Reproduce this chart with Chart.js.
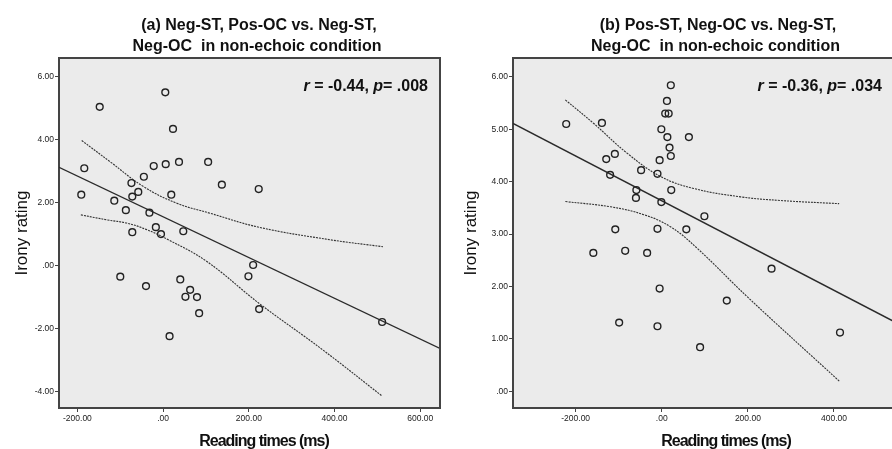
<!DOCTYPE html>
<html>
<head>
<meta charset="utf-8">
<script src="https://cdn.jsdelivr.net/npm/chart.js@4.4.0/dist/chart.umd.min.js"></script>
<style>
body { margin: 0; background: #fff; overflow: hidden; width: 892px; height: 449px; position: relative; }
.panel { position: absolute; top: 0; height: 449px; }
</style>
</head>
<body>
<div class="panel" style="left:0;width:446px"><canvas id="chartA" width="446" height="449"></canvas></div>
<div class="panel" style="left:446px;width:446px;overflow:hidden"><canvas id="chartB" width="470" height="449"></canvas></div>
<script>
// panel (a): reading times (ms) vs irony rating
var timesA = [-148, 5, 23, -184, -191, -22, 6, 37, 105, 137, 223, -45, -74, -58, -72, 19, -114, -87, -32, -17, -5, -72, 47, -100, -40, 40, 63, 52, 79, 84, 15, 210, 199, 224, 511];
var ratingsA = [5.04, 5.50, 4.34, 3.09, 2.25, 3.16, 3.22, 3.29, 3.29, 2.57, 2.43, 2.82, 2.62, 2.34, 2.19, 2.25, 2.06, 1.76, 1.68, 1.22, 1.00, 1.06, 1.09, -0.35, -0.65, -0.44, -0.77, -0.99, -1.00, -1.51, -2.24, 0.02, -0.34, -1.38, -1.79];
var fitXA = [-243, 646];
var fitYA = [3.12, -2.63];
var upperXA = [-190, -124, -46, 32, 110, 226, 390, 513];
var upperYA = [3.97, 3.30, 2.51, 1.98, 1.66, 1.21, 0.82, 0.60];
var lowerXA = [-192, -130, -85, -40, 12, 100, 226, 370, 511];
var lowerYA = [1.61, 1.45, 1.35, 1.15, 0.82, 0.15, -1.22, -2.65, -4.14];
var xTicksA = [-200, 0, 200, 400, 600];
var yTicksA = [-4, -2, 0, 2, 4, 6];

// panel (b)
var timesB = [-222, -139, -129, -109, -120, -48, -59, -60, -10, -5, -1, 22, 21, 12, 8, 16, -1, 13, 63, 18, 21, 99, -108, -10, 57, -159, -85, -34, -5, 151, 255, -99, -10, 89, 414];
var ratingsB = [5.10, 5.12, 4.43, 4.53, 4.13, 4.22, 3.84, 3.69, 4.15, 4.41, 3.61, 3.84, 5.84, 5.54, 5.30, 5.30, 5.00, 4.85, 4.85, 4.65, 4.49, 3.34, 3.09, 3.10, 3.09, 2.64, 2.68, 2.64, 1.96, 1.73, 2.34, 1.31, 1.24, 0.84, 1.12];
var fitXB = [-345.6, 591];
var fitYB = [5.11, 1.11];
var upperXB = [-224, -158, -80, -3, 74, 183, 276, 412];
var upperYB = [5.56, 5.11, 4.54, 4.10, 3.87, 3.71, 3.64, 3.58];
var lowerXB = [-224, -119, -42, 20, 82, 199, 414];
var lowerYB = [3.62, 3.52, 3.37, 3.14, 2.73, 1.80, 0.18];
var xTicksB = [-200, 0, 200, 400];
var yTicksB = [0, 1, 2, 3, 4, 5, 6];

var FONT = "'Liberation Sans', Arial, sans-serif";

function pts(xs, ys) {
    return xs.map(function (x, i) { return { x: x, y: ys[i] }; });
}

function fmt(v) {
    var s = Math.abs(v).toFixed(2);
    if (s.charAt(0) === '0') s = s.slice(1);
    return (v < 0 ? '-' : '') + s;
}

// grey plot background + frame lines + all the text that is placed by hand
var decor = {
    id: 'decor',
    beforeDraw: function (chart) {
        var a = chart.chartArea, ctx = chart.ctx;
        ctx.save();
        ctx.fillStyle = '#ebebeb';
        ctx.fillRect(a.left, a.top, a.right - a.left, a.bottom - a.top);
        ctx.restore();
    },
    afterDraw: function (chart, args, o) {
        var a = chart.chartArea, ctx = chart.ctx;
        ctx.save();
        ctx.strokeStyle = '#444';
        ctx.lineWidth = 2;
        ctx.beginPath();
        ctx.moveTo(a.left - 1, a.top);
        ctx.lineTo(a.right, a.top);
        if (o.rightEdge) ctx.lineTo(a.right, a.bottom);
        ctx.stroke();

        ctx.fillStyle = '#111';
        ctx.textAlign = 'center';
        ctx.textBaseline = 'alphabetic';
        ctx.font = 'bold 16px ' + FONT;
        ctx.fillText(o.title[0], o.titleX[0], 29.5);
        ctx.fillText(o.title[1], o.titleX[1], 50.5);

        // x axis title
        ctx.letterSpacing = '-1px';
        ctx.fillText('Reading times (ms)', o.xTitleX, 446);
        ctx.letterSpacing = '0px';

        // y axis title
        ctx.save();
        ctx.translate(o.yTitleX, (a.top + a.bottom) / 2);
        ctx.rotate(-Math.PI / 2);
        ctx.font = '17px ' + FONT;
        ctx.textBaseline = 'middle';
        ctx.fillText('Irony rating', 0, 0);
        ctx.restore();

        // r / p statistic, right aligned
        var parts = [
            ['bold italic 16px ' + FONT, 'r'],
            ['bold 16px ' + FONT, ' = ' + o.r + ', '],
            ['bold italic 16px ' + FONT, 'p'],
            ['bold 16px ' + FONT, '= ' + o.p]
        ];
        ctx.textAlign = 'left';
        var w = 0;
        parts.forEach(function (p) { ctx.font = p[0]; w += ctx.measureText(p[1]).width; });
        var x = o.statRight - w;
        parts.forEach(function (p) {
            ctx.font = p[0];
            ctx.fillText(p[1], x, 91);
            x += ctx.measureText(p[1]).width;
        });
        ctx.restore();
    }
};

function makeChart(id, d) {
    return new Chart(document.getElementById(id).getContext('2d'), {
        type: 'scatter',
        data: {
            datasets: [{
                data: pts(d.times, d.ratings),
                pointRadius: 3.4,
                pointBorderWidth: 1.4,
                pointBorderColor: '#222',
                pointBackgroundColor: 'rgba(0,0,0,0)',
                showLine: false
            }, {
                data: pts(d.fitX, d.fitY),
                showLine: true,
                borderColor: '#2a2a2a',
                borderWidth: 1.4,
                pointRadius: 0
            }, {
                data: pts(d.upX, d.upY),
                showLine: true,
                borderColor: '#333',
                borderWidth: 1.1,
                borderDash: [2, 1],
                tension: 0.4,
                pointRadius: 0
            }, {
                data: pts(d.loX, d.loY),
                showLine: true,
                borderColor: '#333',
                borderWidth: 1.1,
                borderDash: [2, 1],
                tension: 0.4,
                pointRadius: 0
            }]
        },
        options: {
            responsive: false,
            animation: false,
            layout: { padding: { top: 58, right: d.padRight, left: 0, bottom: 0 } },
            plugins: {
                legend: { display: false },
                tooltip: { enabled: false },
                decor: d.decor
            },
            scales: {
                x: {
                    type: 'linear',
                    min: d.xMin,
                    max: d.xMax,
                    afterBuildTicks: function (s) { s.ticks = d.xTicks.map(function (v) { return { value: v }; }); },
                    afterFit: function (s) { s.height = 41; },
                    border: { color: '#444', width: 2 },
                    grid: { drawOnChartArea: false, drawTicks: true, tickLength: 4, color: '#444' },
                    ticks: {
                        padding: 2,
                        maxRotation: 0,
                        color: '#222',
                        font: { family: FONT, size: 8.5 },
                        callback: function (v) { return fmt(v); }
                    }
                },
                y: {
                    type: 'linear',
                    min: d.yMin,
                    max: d.yMax,
                    afterBuildTicks: function (s) { s.ticks = d.yTicks.map(function (v) { return { value: v }; }); },
                    afterFit: function (s) { s.width = d.yWidth; },
                    border: { color: '#444', width: 2 },
                    grid: { drawOnChartArea: false, drawTicks: true, tickLength: 4, color: '#444' },
                    ticks: {
                        padding: 1,
                        color: '#222',
                        font: { family: FONT, size: 8.5 },
                        callback: function (v) { return fmt(v); }
                    }
                }
            }
        },
        plugins: [decor]
    });
}

makeChart('chartA', {
    times: timesA, ratings: ratingsA,
    fitX: fitXA, fitY: fitYA, upX: upperXA, upY: upperYA, loX: lowerXA, loY: lowerYA,
    xTicks: xTicksA, yTicks: yTicksA,
    xMin: -243, xMax: 646, yMin: -4.52, yMax: 6.59,
    yWidth: 59, padRight: 6,
    decor: {
        title: ['(a) Neg-ST, Pos-OC vs. Neg-ST,', 'Neg-OC  in non-echoic condition'],
        titleX: [259, 257], xTitleX: 264, yTitleX: 22,
        r: '-0.44', p: '.008', statRight: 428, rightEdge: true
    }
});

// canvas (b) is wider than its window; the plot runs past the page edge as in the source
makeChart('chartB', {
    times: timesB, ratings: ratingsB,
    fitX: fitXB, fitY: fitYB, upX: upperXB, upY: upperYB, loX: lowerXB, loY: lowerYB,
    xTicks: xTicksB, yTicks: yTicksB,
    xMin: -345.6, xMax: 578, yMin: -0.32, yMax: 6.36,
    yWidth: 67, padRight: 0,
    decor: {
        title: ['(b) Pos-ST, Neg-OC vs. Neg-ST,', 'Neg-OC  in non-echoic condition'],
        titleX: [272, 269.5], xTitleX: 280, yTitleX: 25,
        r: '-0.36', p: '.034', statRight: 436, rightEdge: false
    }
});
</script>
</body>
</html>
